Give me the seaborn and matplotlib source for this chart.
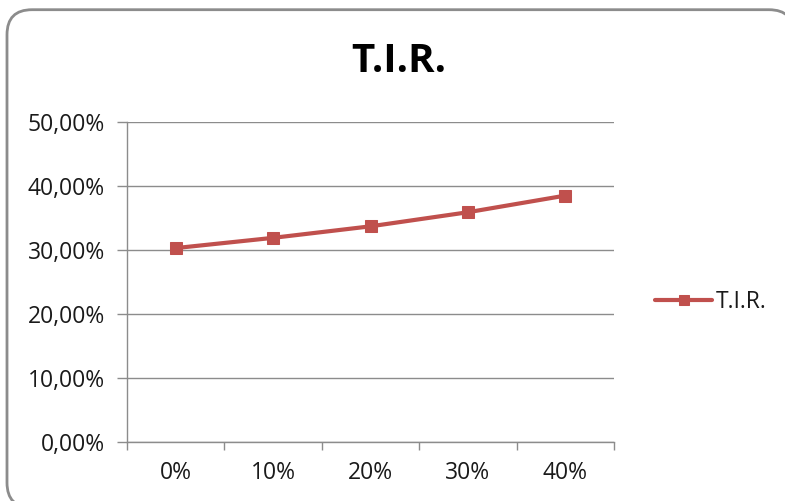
import matplotlib
matplotlib.use("Agg")
import matplotlib.pyplot as plt
import seaborn as sns
import pandas as pd
from matplotlib.patches import FancyBboxPatch
from matplotlib.ticker import FixedLocator, FuncFormatter

categories = ["0%", "10%", "20%", "30%", "40%"]
tir_values = [30.3, 31.9, 33.7, 35.9, 38.5]
series_name = "T.I.R."
y_ticks = [0, 10, 20, 30, 40, 50]

sns.set_theme(style="white")
plt.rcParams['font.family'] = ['Open Sans', 'DejaVu Sans']

df = pd.DataFrame({"cat": categories, "val": tir_values, "series": series_name})

fig = plt.figure(figsize=(7.85, 5.01), dpi=100)
ax = fig.add_axes([127/785, 59/501, 487/785, 320/501])

color = "#C0504D"
sns.lineplot(data=df, x="cat", y="val", ax=ax, color=color, linewidth=3,
             marker="s", markersize=8, markeredgecolor=color, markerfacecolor=color,
             label=series_name, sort=False)

ax.set_xlim(-0.5, len(categories) - 0.5)
ax.set_ylim(0, 50)
ax.set_yticks(y_ticks)
ax.yaxis.set_major_formatter(FuncFormatter(lambda v, p: f"{v:.2f}%".replace(".", ",")))
ax.yaxis.grid(True, color="#8c8c8c", linewidth=1)
ax.xaxis.grid(False)
ax.set_xlabel("")
ax.set_ylabel("")

gray = "#8c8c8c"
for s in ["top", "right"]:
    ax.spines[s].set_visible(False)
for s in ["left", "bottom"]:
    ax.spines[s].set_color(gray)
    ax.spines[s].set_linewidth(1)

ax.set_xticks(range(len(categories)))
ax.set_xticklabels(categories)
ax.xaxis.set_minor_locator(FixedLocator([i + 0.5 for i in range(-1, len(categories))]))
ax.tick_params(axis="x", which="major", length=0, pad=14, labelsize=16.5, colors="#1a1a1a")
ax.tick_params(axis="x", which="minor", length=6, color=gray, width=1, bottom=True)
ax.tick_params(axis="y", which="major", length=7, color=gray, width=1, left=True,
               labelsize=16.5, labelcolor="#1a1a1a", pad=9)

fig.text(399/785, 1 - 61/501, "T.I.R.", ha="center", va="center",
         fontsize=29, fontweight="bold", color="#000000")

leg = ax.legend(loc="center left", bbox_to_anchor=(646/785, 1 - 302/501),
                bbox_transform=fig.transFigure, frameon=False, fontsize=16.5,
                handlelength=2.5, handletextpad=0.15, borderaxespad=0,
                markerscale=0.85)
for t in leg.get_texts():
    t.set_color("#1a1a1a")

# rounded chart-area border, in inches (1 inch = 100 px); white-filled so the
# renderer does not clip the stroke to the canvas edge
border = FancyBboxPatch((0.07, -0.067), 7.87, 4.98,
                        boxstyle="round,pad=0,rounding_size=0.25",
                        transform=fig.dpi_scale_trans,
                        facecolor="white", edgecolor="#8c8c8c", linewidth=2,
                        zorder=-1)
fig.patches.append(border)

fig.savefig("out.png", dpi=100)
